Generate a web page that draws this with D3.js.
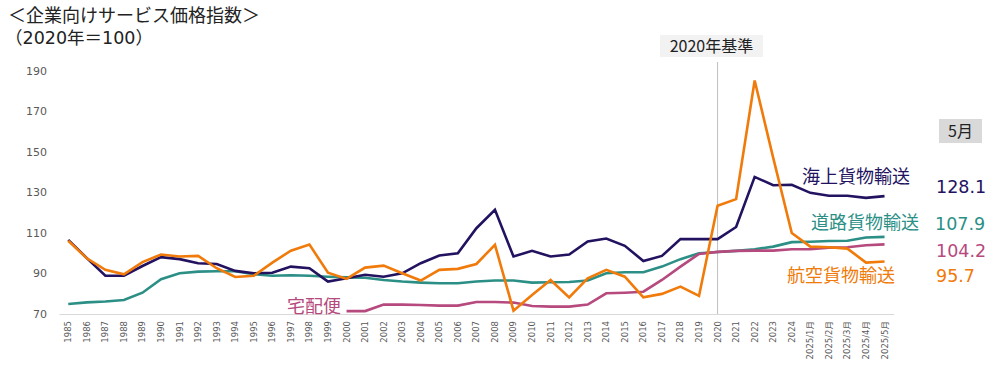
<!DOCTYPE html>
<html><head><meta charset="utf-8">
<script src="https://cdn.jsdelivr.net/npm/d3@7"></script>
<style>
html,body{margin:0;padding:0;background:#fff;}
svg{display:block;}
</style></head>
<body>
<svg id="chart" width="1000" height="369"></svg>
<script>
const categories = ["1985","1986","1987","1988","1989","1990","1991","1992","1993","1994",
"1995","1996","1997","1998","1999","2000","2001","2002","2003","2004",
"2005","2006","2007","2008","2009","2010","2011","2012","2013","2014",
"2015","2016","2017","2018","2019","2020","2021","2022","2023","2024",
"2025/1月","2025/2月","2025/3月","2025/4月","2025/5月"];

const seaFreight = [106.4,97.4,88.7,88.7,93.5,97.9,96.9,94.9,94.5,91.1,
89.9,90.2,93.2,92.4,85.8,87.4,89.2,88.2,89.9,94.9,
98.7,99.8,112.2,121.3,98.2,101.0,98.2,99.2,105.6,107.1,
103.5,96.0,98.5,106.8,106.8,106.8,112.8,137.6,133.5,133.7,
129.7,128.3,128.3,127.2,128.1];

const airFreight = [106.0,97.3,91.6,89.4,95.4,99.2,98.2,98.5,92.4,88.1,
88.7,95.2,101.1,104.1,90.2,87.1,92.7,93.7,89.9,86.3,
91.6,92.1,94.5,104.0,71.4,79.2,86.6,78.0,87.4,91.6,
88.2,78.0,79.7,83.3,78.7,123.3,126.6,185.3,147.0,109.8,
103.1,102.8,102.1,95.2,95.7];

const roadFreight = [74.7,75.5,75.9,76.7,80.3,87.0,89.9,90.7,90.9,90.9,
89.4,88.7,88.9,88.7,88.2,87.9,87.7,86.6,85.8,85.3,
85.0,85.0,85.8,86.3,86.3,85.3,85.5,85.6,86.3,89.9,
90.4,90.4,93.2,96.9,99.8,100.4,101.0,101.8,103.1,105.3,
105.5,105.9,106.0,107.6,107.9];

// 宅配便 starts in 2000
const parcelDelivery = [null,null,null,null,null,null,null,null,null,null,
null,null,null,null,null,71.2,71.2,74.4,74.4,74.2,
73.9,73.9,75.7,75.7,75.4,73.7,73.4,73.4,74.4,80.0,
80.3,80.8,86.6,93.2,99.5,100.5,101.0,101.1,101.1,101.8,
101.8,102.6,102.8,103.8,104.2];

const yTicks = [70,90,110,130,150,170,190];
const seriesNames = ["海上貨物輸送","道路貨物輸送","宅配便","航空貨物輸送"];
const lastValues = ["128.1","107.9","104.2","95.7"];

const colors = {sea:"#221260", road:"#2b8f86", parcel:"#b6497d", air:"#f07a0a"};

const svg = d3.select("#chart");
const CJK = "'Noto Sans CJK JP','DejaVu Sans',sans-serif";
const NUM = "'DejaVu Sans','Noto Sans CJK JP',sans-serif";

const x = d3.scaleBand().domain(categories).range([59, 893.8]).padding(0);
const xc = c => x(c) + x.bandwidth()/2;
const y = d3.scaleLinear().domain([70,190]).range([313.5, 71]);

// Title
svg.append("text").attr("x",8).attr("y",21.5).attr("font-family",NUM).attr("font-size",18)
  .attr("fill","#222").text("＜企業向けサービス価格指数＞");
svg.append("text").attr("x",5).attr("y",44).attr("font-family",NUM).attr("font-size",17.5)
  .attr("fill","#222").text("（2020年＝100）");

// Y axis
const yAxis = svg.append("g").attr("transform","translate(50,0)")
  .call(d3.axisLeft(y).tickValues(yTicks).tickSize(0).tickPadding(3));
yAxis.select(".domain").remove();
yAxis.selectAll("text").attr("font-family",NUM).attr("font-size",11).attr("fill","#595959");

// X axis
const xAxis = svg.append("g").attr("transform","translate(0,314)")
  .call(d3.axisBottom(x).tickSize(0).tickPadding(0));
xAxis.select(".domain").attr("stroke","#d9d9d9").attr("stroke-width",1);
xAxis.selectAll("text")
  .attr("font-family",NUM).attr("font-size",8.5).attr("fill","#595959")
  .attr("transform","translate(0,7) rotate(-90)")
  .attr("text-anchor","end").attr("x",0).attr("y",0).attr("dy","0.35em");

// 2020 reference line
const x2020 = xc("2020");
svg.append("line").attr("x1",x2020).attr("x2",x2020).attr("y1",62).attr("y2",314)
  .attr("stroke","#bfbfbf").attr("stroke-width",1);
svg.append("rect").attr("x",660).attr("y",35).attr("width",103).attr("height",22).attr("fill","#f2f2f2");
svg.append("text").attr("x",711.5).attr("y",46).attr("dy","0.36em").attr("text-anchor","middle")
  .attr("font-family",CJK).attr("font-size",16).attr("fill","#222").text("2020年基準");

// 5月 box
svg.append("rect").attr("x",939).attr("y",119).attr("width",43).attr("height",24).attr("fill","#d9d9d9");
svg.append("text").attr("x",960.5).attr("y",131).attr("dy","0.36em").attr("text-anchor","middle")
  .attr("font-family",CJK).attr("font-size",16).attr("fill","#222").text("5月");

// Lines
const line = d3.line().defined(d => d.v != null).x(d => xc(d.c)).y(d => y(d.v));
function draw(vals, color){
  const data = categories.map((c,i)=>({c, v: vals[i]}));
  svg.append("path").datum(data).attr("d",line).attr("fill","none")
    .attr("stroke",color).attr("stroke-width",2.6).attr("stroke-linejoin","miter");
}
draw(roadFreight, colors.road);
draw(parcelDelivery, colors.parcel);
draw(seaFreight, colors.sea);
draw(airFreight, colors.air);

// Series labels
function lab(txt, xx, yy, color, font, size){
  svg.append("text").attr("x",xx).attr("y",yy).attr("dy","0.36em")
    .attr("font-family",font).attr("font-size",size).attr("fill",color).text(txt);
}
lab(seriesNames[0], 802, 177, colors.sea, CJK, 18);
lab(seriesNames[1], 811, 223, colors.road, CJK, 18);
lab(seriesNames[2], 287, 306.5, colors.parcel, CJK, 18);
lab(seriesNames[3], 787, 276, colors.air, CJK, 18);

lab(lastValues[0], 936, 187, colors.sea, NUM, 17.5);
lab(lastValues[1], 935, 224, colors.road, NUM, 17.5);
lab(lastValues[2], 936, 251, colors.parcel, NUM, 17.5);
lab(lastValues[3], 936, 276, colors.air, NUM, 17.5);
</script>
</body></html>
